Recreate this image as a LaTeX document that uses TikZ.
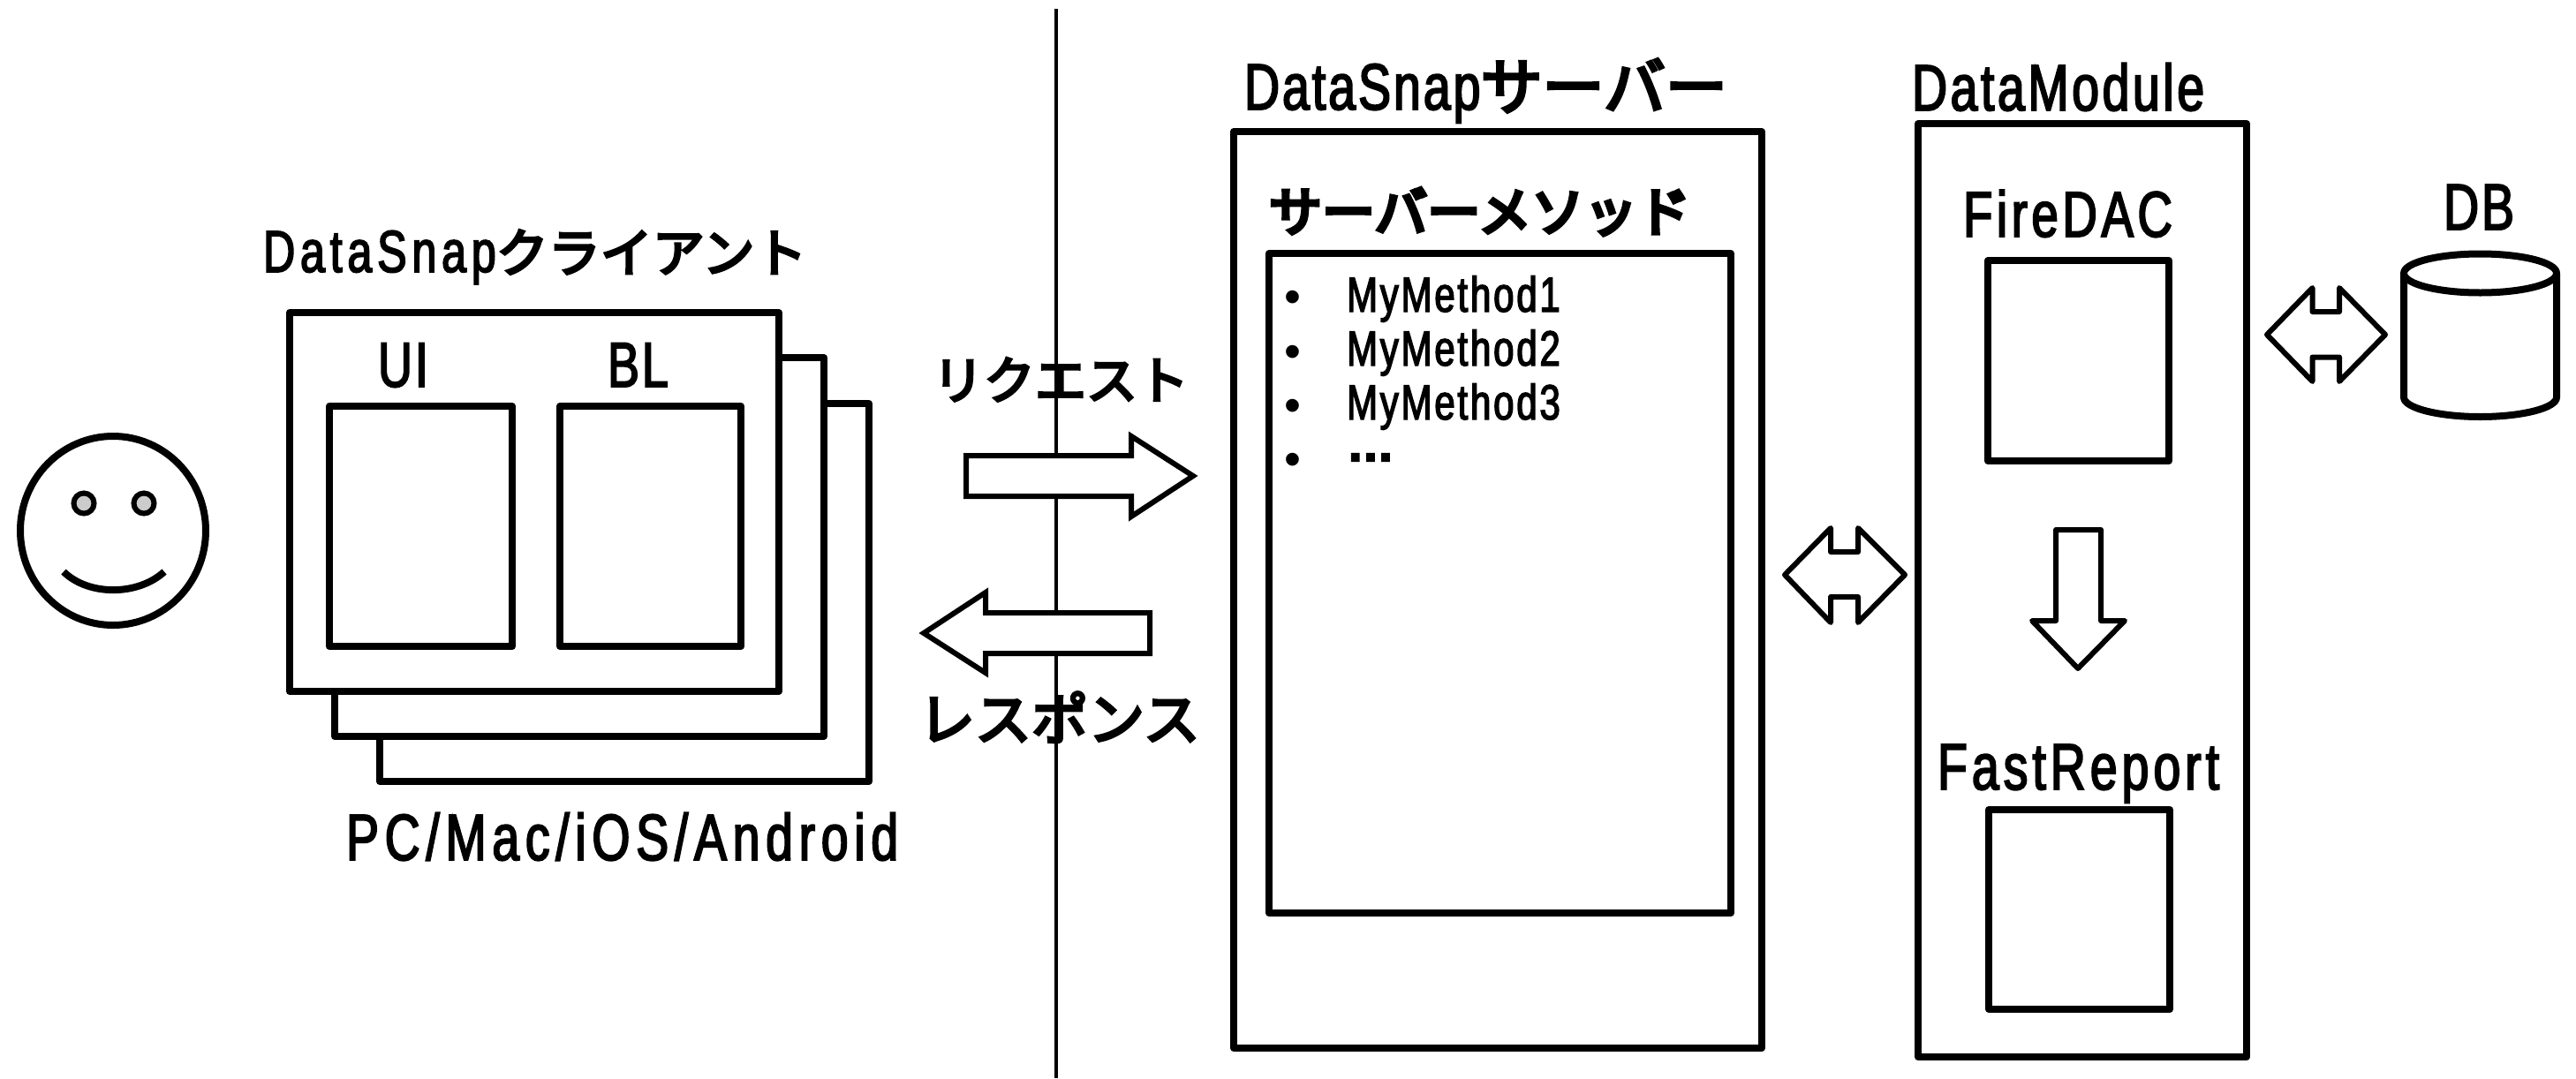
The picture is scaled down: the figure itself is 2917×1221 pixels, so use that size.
\documentclass[tikz,border=0pt]{standalone}
\usepackage{fontspec}
\usetikzlibrary{shapes.geometric}
\setmainfont{Liberation Sans}
\newfontfamily\lat[FakeStretch=0.75,LetterSpace=4,FakeBold=2.5]{Liberation Sans}
\newfontfamily\plain{Liberation Sans}
\newfontfamily\dotfont[UprightFont=* Bold,FakeBold=4]{Liberation Sans}
\newfontfamily\cjk[FakeBold=5]{Noto Sans CJK JP}
\newfontfamily\cjkh[FakeBold=7]{Noto Sans CJK JP}
\newcommand\F[1]{\fontsize{#1}{#1}\selectfont}
\newcommand\K[1]{{\cjk #1}}
\newcommand\KH[1]{{\cjkh #1}}
\newcommand\LS[1]{\lat\addfontfeature{LetterSpace=#1}}
\tikzset{
  txt/.style={anchor=base west,inner sep=0pt,outer sep=0pt,text=black},
  bul/.style={anchor=base,inner sep=0pt,outer sep=0pt,font=\plain\F{27}},
  heavy/.style={draw=black,fill=white,line width=4pt,line join=round},
  blockarrow/.style={draw=black,fill=white,line width=3pt,line join=miter},
  softarrow/.style={draw=black,fill=white,line width=3pt,line join=round},
  boxn/.style={heavy,rectangle,inner sep=0pt,outer sep=0pt},
  oval/.style={ellipse,inner sep=0pt,outer sep=0pt},
}
\newcommand\boxnode[5]{%
  \pgfmathsetmacro\bw{(#4-#2)*0.5}\pgfmathsetmacro\bh{(#5-#3)*0.5}%
  \pgfmathsetmacro\cx{(#4+#2)/2}\pgfmathsetmacro\cy{(#5+#3)/2}%
  \node[boxn,minimum width=\bw pt,minimum height=\bh pt] (#1) at (\cx,\cy) {};}
\begin{document}
\begin{tikzpicture}[x=0.5pt,y=-0.5pt]
\useasboundingbox[fill=white] (0,0) rectangle (2917,1221);
% divider
\coordinate (divtop) at (1196,10);
\coordinate (divbot) at (1196,1221);
\draw[line width=2pt] (divtop) -- (divbot);
% face
\node[oval,heavy,minimum width=105pt,minimum height=107pt] (face) at (128,601) {};
\node[oval,draw=black,fill=black!20,line width=3pt,minimum width=11.5pt,minimum height=11.5pt] (eyeL) at (95,570) {};
\node[oval,draw=black,fill=black!20,line width=3pt,minimum width=11.5pt,minimum height=11.5pt] (eyeR) at (163,570) {};
\draw[line width=4pt] (72,647.5) .. controls (100,675) and (156,675) .. (186,647.5);
% client stack
\boxnode{stackC}{430}{457}{984}{885}
\boxnode{stackB}{379}{405}{933}{834}
\boxnode{client}{328}{354}{882}{783}
\boxnode{ui}{373}{460}{580}{732}
\boxnode{bl}{634}{460}{839}{732}
% request / response arrows
\draw[blockarrow] (1094,516) -- (1281,516) -- (1281,494) -- (1351,539) -- (1281,585) -- (1281,562) -- (1094,562) -- cycle;
\draw[blockarrow] (1302,694) -- (1116,694) -- (1116,671) -- (1046,717) -- (1116,762) -- (1116,740) -- (1302,740) -- cycle;
% server
\boxnode{server}{1397}{149}{1995}{1187}
\boxnode{methods}{1437}{287}{1960}{1034}
% data module
\boxnode{module}{2172}{140}{2544}{1197}
\boxnode{firedac}{2251}{295}{2456}{522}
\boxnode{fastreport}{2252}{917}{2457}{1143}
% block arrows
\draw[softarrow] (2021,651) -- (2073,598) -- (2073,625) -- (2104,625) -- (2104,598) -- (2157,651) -- (2104,705) -- (2104,676) -- (2073,676) -- (2073,705) -- cycle;
\draw[softarrow] (2567,379) -- (2618.5,326) -- (2618.5,353) -- (2649,353) -- (2649,326) -- (2701,379) -- (2649,432) -- (2649,404.5) -- (2618.5,404.5) -- (2618.5,432) -- cycle;
\draw[softarrow] (2328,600) -- (2379,600) -- (2379,703) -- (2406,703) -- (2353,757) -- (2301,703) -- (2328,703) -- cycle;
% database
\draw[heavy] (2722,309.5) -- (2722,450) .. controls (2722,462) and (2761,472) .. (2808.5,472) .. controls (2856,472) and (2895,462) .. (2895,450) -- (2895,309.5);
\node[oval,heavy,minimum width=86.5pt,minimum height=22pt] (dbtop) at (2808.5,309.5) {};
% labels
\node[txt] (lclient) at (298,308) {\LS{8.6}\F{33.5}DataSnap\K{\F{29.5}クライアント}};
\node[txt] (lui) at (428,438) {\lat\F{36}UI};
\node[txt] (lbl) at (688,438) {\lat\F{36}BL};
\node[txt] (lpc) at (392,974) {\LS{9}\F{37}PC/Mac/iOS/Android};
\node[txt] (lreq) at (1056,452) {\K{\F{29}リクエスト}};
\node[txt] (lres) at (1040,838) {\K{\F{32}レスポンス}};
\node[txt] (lserver) at (1409,124) {\lat\F{37}DataSnap\K{\F{35}サーバー}};
\node[txt] (lmeth) at (1437,262) {\KH{\F{30}サーバーメソッド}};
\node[txt] (lm1) at (1525,353) {\LS{5}\F{28}MyMethod1};
\node[txt] (lm2) at (1525,414) {\LS{5}\F{28}MyMethod2};
\node[txt] (lm3) at (1525,475) {\LS{5}\F{28}MyMethod3};
\node[txt] (lm4) at (1525,522) {\dotfont\F{27}…};
\node[bul] (b1) at (1463.5,354) {•};
\node[bul] (b2) at (1463.5,416) {•};
\node[bul] (b3) at (1463.5,477) {•};
\node[bul] (b4) at (1463.5,538) {•};
\node[txt] (lmodule) at (2165,125) {\LS{4.8}\F{37}DataModule};
\node[txt] (lfire) at (2223,268) {\LS{6.2}\F{36.5}FireDAC};
\node[txt] (lfast) at (2194,894) {\LS{6.7}\F{37}FastReport};
\node[txt] (ldb) at (2767,260) {\lat\F{37}DB};
\end{tikzpicture}
\end{document}
